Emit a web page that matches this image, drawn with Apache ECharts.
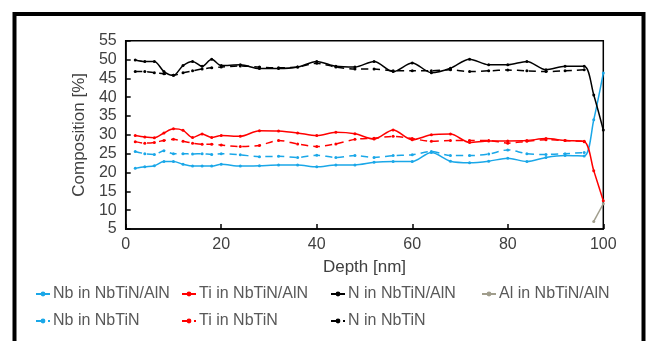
<!DOCTYPE html>
<html><head><meta charset="utf-8">
<script src="https://cdn.jsdelivr.net/npm/echarts/dist/echarts.min.js"></script>
<style>html,body{margin:0;padding:0;background:#fff}#c{width:647px;height:341px}</style>
</head><body><div id="c"></div>
<script>
// Depth positions [nm]
const depthAlN = [2,4,6,8,10,12,14,16,18,20,24,28,32,36,40,44,48,52,56,60,64,68,72,76,80,84,88,92,96,98,100];
const depthNbTiN = [2,4,6,8,10,12,14,16,18,20,24,28,32,36,40,44,48,52,56,60,64,68,72,76,80,84,88,92,96];
const depthAl = [98,100];

// Composition [%]
const nbInNbTiNAlN = [21.1,21.5,21.8,22.9,22.9,22.2,21.7,21.7,21.7,22.2,21.7,21.8,22.0,22.0,21.5,22.0,22.0,22.7,22.9,22.9,25.3,23.0,22.6,23.0,23.8,22.9,24.0,24.5,24.4,34.0,46.4];
const tiInNbTiNAlN = [29.8,29.4,29.2,30.5,31.6,31.2,29.3,30.2,29.3,29.8,29.6,31.1,31.0,30.5,29.8,30.7,30.3,28.9,31.3,28.7,30.0,30.2,28.0,28.4,28.4,28.5,29.0,28.5,28.2,20.5,12.5];
const nInNbTiNAlN = [49.9,49.5,49.5,46.8,45.8,48.4,49.5,48.2,50.1,48.4,48.6,47.6,47.6,48.0,49.5,48.2,48.0,49.5,46.8,49.1,46.5,47.7,50.1,48.6,48.6,49.5,47.3,48.2,48.2,40.6,31.3];
const alInNbTiNAlN = [7.0,11.7];
const nbInNbTiN = [25.6,25.0,24.8,25.8,25.0,25.0,24.9,25.0,24.8,25.0,24.7,24.2,24.3,24.0,24.6,24.0,24.5,24.0,24.5,24.7,25.6,24.5,24.5,24.9,26.0,25.0,24.8,25.0,25.3];
const tiInNbTiN = [28.2,27.8,28.0,28.5,28.8,28.3,27.8,27.5,27.5,27.3,26.9,27.2,28.5,27.6,26.9,27.6,28.8,29.1,29.6,29.0,28.3,28.5,28.5,28.5,27.8,28.3,28.7,28.5,28.3];
const nInNbTiN = [46.8,46.8,46.5,46.2,45.8,46.5,47.0,47.5,47.8,48.0,48.3,48.0,47.8,48.0,49.0,48.0,47.5,47.5,47.0,47.0,47.0,47.3,46.8,47.0,47.2,47.0,46.8,47.0,47.3];

const xTicks = [0,20,40,60,80,100];
const yTicks = [5,10,15,20,25,30,35,40,45,50,55];

const BLUE = '#1aa7e8', RED = '#ff0000', BLACK = '#000000', GREY = '#a09d8c';
const FONT = 'Liberation Sans';

function pairs(xs, ys){ return xs.map((x,i)=>[x, ys[i]]); }
function ser(name, xs, ys, color, dashed){
  return {
    name, type:'line', data: pairs(xs, ys), smooth: 0.3,
    symbol:'circle', symbolSize: 3, showSymbol: true,
    itemStyle:{color},
    lineStyle:{color, width:1.5, type: dashed ? [7,5] : 'solid'},
    emphasis:{disabled:true}, animation:false, z: dashed ? 2 : 3
  };
}

const series = [
  ser('Nb in NbTiN/AlN', depthAlN, nbInNbTiNAlN, BLUE, false),
  ser('Ti in NbTiN/AlN', depthAlN, tiInNbTiNAlN, RED, false),
  ser('N in NbTiN/AlN', depthAlN, nInNbTiNAlN, BLACK, false),
  ser('Al in NbTiN/AlN', depthAl, alInNbTiNAlN, GREY, false),
  ser('Nb in NbTiN', depthNbTiN, nbInNbTiN, BLUE, true),
  ser('Ti in NbTiN', depthNbTiN, tiInNbTiN, RED, true),
  ser('N in NbTiN', depthNbTiN, nInNbTiN, BLACK, true)
];

const legendPos = [
  ['Nb in NbTiN/AlN', 35, 286], ['Ti in NbTiN/AlN', 181, 286], ['N in NbTiN/AlN', 330, 286], ['Al in NbTiN/AlN', 481, 286],
  ['Nb in NbTiN', 35, 313], ['Ti in NbTiN', 181, 313], ['N in NbTiN', 330, 313]
];
const legends = legendPos.map(([n,l,t]) => ({
  data:[n], left:l, top:t, padding:0, itemWidth:14, itemHeight:6, itemGap:0,
  textStyle:{fontFamily:FONT, fontSize:16, color:'#595959', padding:[0,0,0,-2]},
  selectedMode:false
}));

const chart = echarts.init(document.getElementById('c'), null, {renderer:'canvas'});
chart.setOption({
  animation:false,
  backgroundColor:'#ffffff',
  grid:{left:125.7, right:43.7, top:40.7, bottom:112, show:true, borderColor:'#000', borderWidth:1.5, backgroundColor:'transparent'},
  xAxis:{
    type:'value', min:xTicks[0], max:xTicks[xTicks.length-1], interval:20,
    name:'Depth [nm]', nameLocation:'middle', nameGap:30,
    nameTextStyle:{fontFamily:FONT, fontSize:17, color:'#404040'},
    axisLine:{show:true, lineStyle:{color:'#000', width:1.5}},
    axisTick:{show:true, inside:true, length:5, lineStyle:{color:'#000', width:1.5}},
    axisLabel:{fontFamily:FONT, fontSize:16, color:'#404040', margin:8},
    splitLine:{show:false}
  },
  yAxis:{
    type:'value', min:yTicks[0], max:yTicks[yTicks.length-1], interval:5,
    name:'Composition [%]', nameLocation:'middle', nameGap:24, nameRotate:90,
    nameTextStyle:{fontFamily:FONT, fontSize:17, color:'#404040'},
    axisLine:{show:true, lineStyle:{color:'#000', width:1.5}},
    axisTick:{show:true, inside:true, length:5, lineStyle:{color:'#000', width:1.5}},
    axisLabel:{fontFamily:FONT, fontSize:16, color:'#404040', margin:9},
    splitLine:{show:false}
  },
  legend: legends,
  graphic:[{type:'rect', shape:{x:14.5, y:14, width:629, height:400}, style:{fill:null, stroke:'#000', lineWidth:4}, silent:true}],
  series
});
</script>
</body></html>
